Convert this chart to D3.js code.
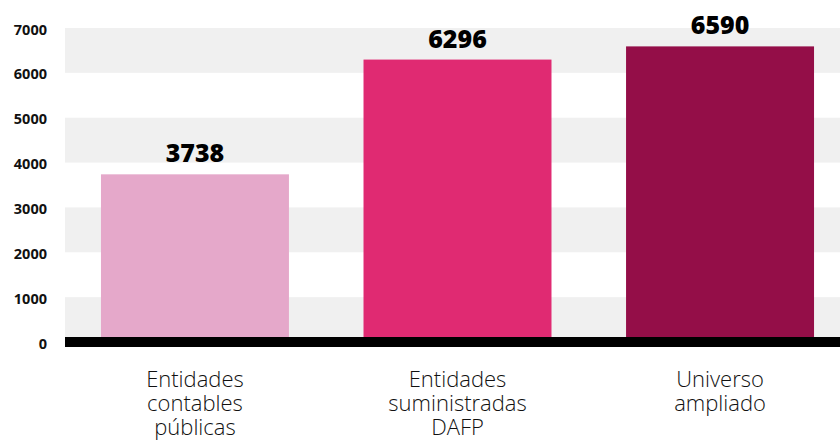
<!DOCTYPE html>
<html>
<head>
<meta charset="utf-8">
<script src="https://cdn.jsdelivr.net/npm/d3@7"></script>
<style>
  html, body { margin: 0; padding: 0; background: #fff; }
  svg { display: block; }
</style>
</head>
<body>
<svg id="chart" width="840" height="442"></svg>
<script>
const categories = [
  ["Entidades", "contables", "públicas"],
  ["Entidades", "suministradas", "DAFP"],
  ["Universo", "ampliado"]
];
const values = [3738, 6296, 6590];
const colors = ["#E5A8CA", "#E02A72", "#940E48"];
const yTicks = [0, 1000, 2000, 3000, 4000, 5000, 6000, 7000];
const bandPairs = [[6000, 7000], [4000, 5000], [2000, 3000], [0, 1000]];

const svg = d3.select("#chart");
const W = 840, H = 442;

const x = d3.scaleBand()
  .domain(d3.range(values.length))
  .range([65, 850])
  .paddingInner(0.284)
  .paddingOuter(0.137);

const y = d3.scaleLinear().domain([0, 7000]).range([342, 28]);

// alternating grey bands
svg.append("g").selectAll("rect").data(bandPairs).join("rect")
  .attr("x", 65)
  .attr("width", W - 65)
  .attr("y", d => y(d[1]))
  .attr("height", d => y(d[0]) - y(d[1]))
  .attr("fill", "#F0F0F0");

// y-axis labels
const yAxis = d3.axisLeft(y).tickValues(yTicks).tickSize(0).tickPadding(0).tickFormat(d3.format("d"));
const ga = svg.append("g").attr("transform", "translate(47,1.5)").call(yAxis);
ga.select(".domain").remove();
ga.selectAll("text")
  .attr("font-family", "'Open Sans', sans-serif")
  .attr("font-weight", 700)
  .attr("font-size", 14.5)
  .attr("fill", "#111");

// bars
svg.append("g").selectAll("rect").data(values).join("rect")
  .attr("x", (d, i) => x(i))
  .attr("width", x.bandwidth())
  .attr("y", d => y(d))
  .attr("height", d => y(0) - y(d))
  .attr("fill", (d, i) => colors[i]);

// baseline
svg.append("rect")
  .attr("x", 65).attr("width", W - 65)
  .attr("y", y(0) - 5).attr("height", 10)
  .attr("fill", "#000");

// value labels
svg.append("g").selectAll("text").data(values).join("text")
  .attr("x", (d, i) => x(i) + x.bandwidth() / 2)
  .attr("y", d => y(d) - 12)
  .attr("text-anchor", "middle")
  .attr("font-family", "'Open Sans', sans-serif")
  .attr("font-weight", 800)
  .attr("font-size", 25)
  .attr("fill", "#000")
  .text(d => d);

// category labels
const cg = svg.append("g").selectAll("text").data(categories).join("text")
  .attr("x", (d, i) => x(i) + x.bandwidth() / 2)
  .attr("y", 387)
  .attr("text-anchor", "middle")
  .attr("font-family", "'Open Sans', sans-serif")
  .attr("font-weight", 300)
  .attr("font-size", 22)
  .attr("fill", "#111");
cg.selectAll("tspan").data(d => d).join("tspan")
  .attr("x", function() { return d3.select(this.parentNode).attr("x"); })
  .attr("dy", (d, j) => j === 0 ? 0 : 24)
  .text(d => d);
</script>
</body>
</html>
